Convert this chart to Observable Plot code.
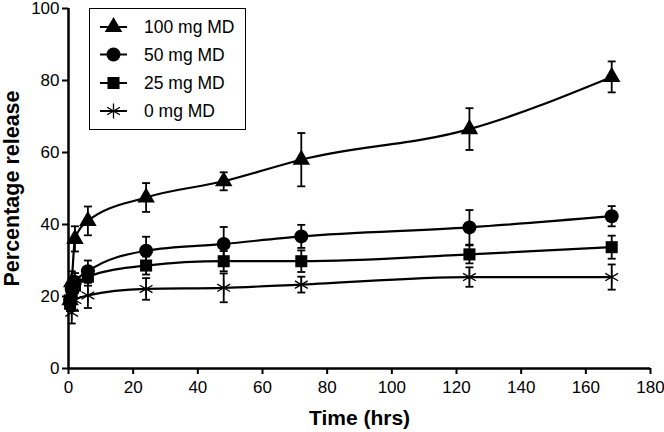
<!DOCTYPE html>
<html>
<head>
<meta charset="utf-8">
<script src="https://cdn.jsdelivr.net/npm/d3@7"></script>
<script src="https://cdn.jsdelivr.net/npm/@observablehq/plot@0.6"></script>
<style>
  html, body { margin: 0; padding: 0; background: #fff; }
  #chart { position: relative; width: 664px; height: 432px; font-family: "Liberation Sans", Arial, sans-serif; }
  #legend { position: absolute; left: 89px; top: 8px; }
</style>
</head>
<body>
<div id="chart"></div>
<script>
// ---- data ----
const times = [0.5, 1, 2, 6, 24, 48, 72, 124, 168];
const seriesNames = ["100 mg MD", "50 mg MD", "25 mg MD", "0 mg MD"];
const seriesSymbols = ["triangle", "circle", "square", "asterisk"];
const v100 = [19, 24, 36, 41, 47.5, 52, 58, 66.5, 81];
const v50  = [19, 22, 24, 27, 32.7, 34.6, 36.7, 39.2, 42.3];
const v25  = [18, 21, 23, 25.5, 28.6, 29.8, 29.8, 31.7, 33.7];
const v0   = [19.5, 15.5, 19, 20.3, 22.1, 22.4, 23.3, 25.4, 25.4];
const e100 = [3, 3, 3.5, 4, 4, 2.5, 7.4, 5.8, 4.3];
const e50  = [2, 2, 2.5, 3, 3.9, 4.7, 3.2, 4.8, 2.8];
const e25  = [2, 2, 2, 2.5, 2.5, 2.8, 3, 2.5, 3.2];
const e0   = [2, 3, 3, 3.5, 3, 4, 2.2, 2.7, 3.5];
const xTicks = [0, 20, 40, 60, 80, 100, 120, 140, 160, 180];
const yTicks = [0, 20, 40, 60, 80, 100];
const xLabel = "Time (hrs)";
const yLabel = "Percentage release";

const values = [v100, v50, v25, v0];
const errors = [e100, e50, e25, e0];
const rows = seriesNames.flatMap((s, i) =>
  times.map((t, j) => ({series: s, idx: i, t, v: values[i][j], e: errors[i][j]})));

const cap = {draw(ctx, size) { const w = 4; ctx.moveTo(-w, 0); ctx.lineTo(w, 0); }};

const markSizes = {triangle: 6.5, circle: 7, square: 6.8, asterisk: 7};
const dotMarks = seriesNames.map((s, i) => {
  const sym = seriesSymbols[i];
  const data = rows.filter(d => d.series === s);
  return sym === "asterisk"
    ? Plot.dot(data, {x: "t", y: "v", symbol: sym, r: markSizes[sym], stroke: "black", strokeWidth: 1.3, fill: "none"})
    : Plot.dot(data, {x: "t", y: "v", symbol: sym, r: markSizes[sym], fill: "black", stroke: "none"});
});

const plot = Plot.plot({
  width: 664,
  height: 432,
  marginLeft: 68,
  marginRight: 14,
  marginTop: 8,
  marginBottom: 64,
  style: {fontFamily: "Liberation Sans, Arial, sans-serif", color: "black", background: "white"},
  x: {domain: [0, 180]},
  y: {domain: [0, 100]},
  marks: [
    Plot.ruleX(rows, {x: "t", y1: d => d.v - d.e, y2: d => d.v + d.e, stroke: "black", strokeWidth: 1.8}),
    Plot.dot(rows, {x: "t", y: d => d.v + d.e, symbol: cap, stroke: "black", strokeWidth: 1.8}),
    Plot.dot(rows, {x: "t", y: d => d.v - d.e, symbol: cap, stroke: "black", strokeWidth: 1.8}),
    Plot.line(rows, {x: "t", y: "v", z: "series", curve: "monotone-x", stroke: "black", strokeWidth: 2.2}),
    ...dotMarks,
    Plot.axisX({ticks: xTicks, tickSize: 6, tickPadding: 6, fontSize: 17, strokeWidth: 2, label: null}),
    Plot.axisY({ticks: yTicks, tickSize: 6, tickPadding: 3, fontSize: 17, strokeWidth: 2, label: null}),
    Plot.ruleX([0], {stroke: "black", strokeWidth: 2.5}),
    Plot.ruleY([0], {stroke: "black", strokeWidth: 2.5}),
    Plot.text([xLabel], {frameAnchor: "bottom", dy: 50, lineAnchor: "middle", fontSize: 21, fontWeight: "bold", fill: "black"}),
    Plot.text([yLabel], {frameAnchor: "left", dx: -56, rotate: -90, textAnchor: "middle", lineAnchor: "middle", fontSize: 21.5, fontWeight: "bold", fill: "black"})
  ]
});

const chart = document.getElementById("chart");
chart.appendChild(plot);

// ---- legend ----
const lw = 157, lh = 122;
const leg = d3.select(chart).append("svg").attr("id", "legend").attr("width", lw).attr("height", lh);
leg.append("rect").attr("x", 0.5).attr("y", 0.5).attr("width", lw - 1).attr("height", lh - 1)
  .attr("fill", "white").attr("stroke", "black").attr("stroke-width", 1);
const d3sym = {triangle: d3.symbolTriangle, circle: d3.symbolCircle, square: d3.symbolSquare, asterisk: d3.symbolAsterisk};
const rowY = [19, 46.5, 75, 103];
seriesNames.forEach((s, i) => {
  const g = leg.append("g").attr("transform", `translate(0,${rowY[i]})`);
  g.append("line").attr("x1", 11).attr("x2", 38).attr("stroke", "black").attr("stroke-width", 2);
  const sym = seriesSymbols[i];
  const r = markSizes[sym];
  const p = g.append("path").attr("transform", "translate(24.5,0)")
    .attr("d", d3.symbol(d3sym[sym], r * r * Math.PI)());
  if (sym === "asterisk") p.attr("fill", "none").attr("stroke", "black").attr("stroke-width", 1.3);
  else p.attr("fill", "black");
  g.append("text").attr("x", 55).attr("dy", "0.35em").attr("font-size", 17.5)
    .attr("font-family", "Liberation Sans, Arial, sans-serif").attr("fill", "black").text(s);
});
</script>
</body>
</html>
